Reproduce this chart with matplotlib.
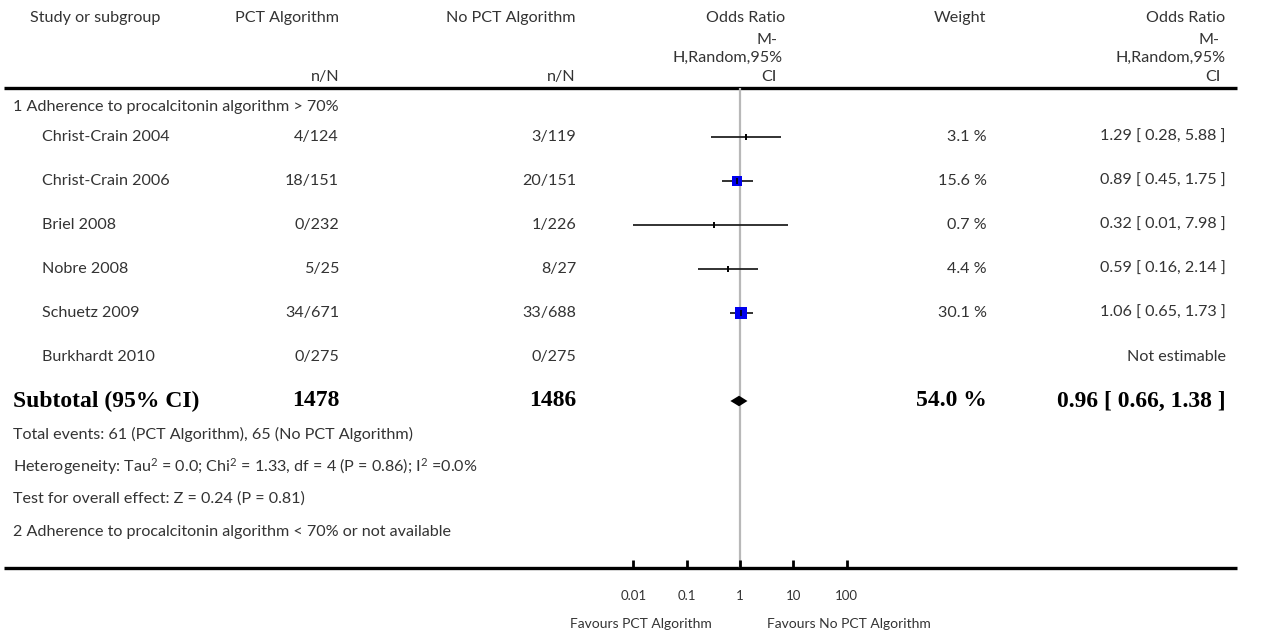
import matplotlib
matplotlib.use("Agg")
import matplotlib.pyplot as plt
import numpy as np

plt.rcParams["mathtext.fontset"] = "custom"
plt.rcParams["mathtext.rm"] = "Lato"
plt.rcParams["mathtext.it"] = "Lato:italic"
plt.rcParams["mathtext.bf"] = "Lato:bold"

# ---------------- data ----------------
studies = ["Christ-Crain 2004", "Christ-Crain 2006", "Briel 2008", "Nobre 2008",
           "Schuetz 2009", "Burkhardt 2010"]
pct_nN = ["4/124", "18/151", "0/232", "5/25", "34/671", "0/275"]
nopct_nN = ["3/119", "20/151", "1/226", "8/27", "33/688", "0/275"]
odds = [1.29, 0.89, 0.32, 0.59, 1.06, None]
ci_low = [0.28, 0.45, 0.01, 0.16, 0.65, None]
ci_high = [5.88, 1.75, 7.98, 2.14, 1.73, None]
weights = [3.1, 15.6, 0.7, 4.4, 30.1, None]
weight_labels = ["3.1 %", "15.6 %", "0.7 %", "4.4 %", "30.1 %", ""]
or_labels = ["1.29 [ 0.28, 5.88 ]", "0.89 [ 0.45, 1.75 ]", "0.32 [ 0.01, 7.98 ]",
             "0.59 [ 0.16, 2.14 ]", "1.06 [ 0.65, 1.73 ]", "Not estimable"]
sub_or, sub_low, sub_high = 0.96, 0.66, 1.38
sub_pct_total, sub_nopct_total = "1478", "1486"
sub_weight = "54.0 %"
sub_label = "0.96 [ 0.66, 1.38 ]"
xticks = [0.01, 0.1, 1, 10, 100]
xtick_labels = ["0.01", "0.1", "1", "10", "100"]

W, H = 1266, 636
fig = plt.figure(figsize=(W / 100, H / 100), dpi=100)

REG = dict(family=["Lato", "DejaVu Sans"], fontsize=11.6, color="#333333")
BOLD = dict(family=["Liberation Serif", "DejaVu Serif"], fontsize=17, fontweight="bold", color="black")

# text/layout axes in pixel coordinates
tx = fig.add_axes([0, 0, 1, 1])
tx.set_xlim(0, W)
tx.set_ylim(H, 0)
tx.axis("off")

# forest axes (log scale)
x0, x1 = 600, 880
ytop, ybot = 88, 568
row0, rstep = 137, 44
ax = fig.add_axes([x0 / W, (H - ybot) / H, (x1 - x0) / W, (ybot - ytop) / H])
ax.set_xscale("log")
dec = 53.33
ax.set_xlim(10 ** ((x0 - 740) / dec), 10 ** ((x1 - 740) / dec))
ax.set_ylim((ybot - row0) / rstep, (ytop - row0) / rstep)
ax.patch.set_alpha(0)
for s in ax.spines.values():
    s.set_visible(False)
ax.set_yticks([])
ax.set_xticks(xticks)
ax.set_xticklabels(xtick_labels)
ax.minorticks_off()
ax.tick_params(axis="x", direction="in", length=6, width=2, pad=16,
               labelsize=9.5, labelcolor="#333333")
for lab in ax.get_xticklabels():
    lab.set_family(["Lato", "DejaVu Sans"])

# reference line at 1
ax.axvline(1, color="#b8b8b8", lw=1.6, zorder=1)

# study rows
for i, (o, lo, hi, w) in enumerate(zip(odds, ci_low, ci_high, weights)):
    if o is None:
        continue
    ax.plot([lo, hi], [i, i], color="#222222", lw=1.3, zorder=2,
            solid_capstyle="butt")
    if w >= 10:
        ms = 5.2 + 0.1 * w
        ax.plot([o], [i], marker="s", color="#0000ee", ms=ms, mew=0, zorder=3)
        ax.plot([o], [i], marker="|", color="black", ms=5, mew=1.2, zorder=4)
    else:
        ax.plot([o], [i], marker="|", color="black", ms=5, mew=1.4, zorder=4)

# subtotal diamond
si = len(studies)
ax.fill([sub_low, sub_or, sub_high, sub_or], [si, si - 0.12, si, si + 0.12],
        color="black", lw=0, zorder=3)

# header
hy1 = 18
tx.text(30, hy1, "Study or subgroup", ha="left", va="center", **REG)
tx.text(339, hy1, "PCT Algorithm", ha="right", va="center", **REG)
tx.text(576, hy1, "No PCT Algorithm", ha="right", va="center", **REG)
tx.text(339, 77, "n/N", ha="right", va="center", **REG)
tx.text(576, 77, "n/N", ha="right", va="center", **REG)
tx.text(785, hy1, "Odds Ratio", ha="right", va="center", **REG)
tx.text(778, 40, "M-", ha="right", va="center", **REG)
tx.text(783, 58, "H,Random,95%", ha="right", va="center", **REG)
tx.text(777, 77, "CI", ha="right", va="center", **REG)
tx.text(986, hy1, "Weight", ha="right", va="center", **REG)
tx.text(1225, hy1, "Odds Ratio", ha="right", va="center", **REG)
tx.text(1220, 40, "M-", ha="right", va="center", **REG)
tx.text(1226, 58, "H,Random,95%", ha="right", va="center", **REG)
tx.text(1221, 77, "CI", ha="right", va="center", **REG)
tx.plot([4, 1237], [88, 88], color="black", lw=2.4, solid_capstyle="butt")

tx.text(13, 107, "1 Adherence to procalcitonin algorithm > 70%", ha="left", va="center", **REG)
for i, name in enumerate(studies):
    y = row0 + rstep * i
    tx.text(42, y, name, ha="left", va="center", **REG)
    tx.text(339, y, pct_nN[i], ha="right", va="center", **REG)
    tx.text(576, y, nopct_nN[i], ha="right", va="center", **REG)
    if weight_labels[i]:
        tx.text(987, y, weight_labels[i], ha="right", va="center", **REG)
    tx.text(1226, y, or_labels[i], ha="right", va="center", **REG)

ys = row0 + rstep * si
tx.text(13, ys, "Subtotal (95% CI)", ha="left", va="center", **BOLD)
tx.text(339, ys, sub_pct_total, ha="right", va="center", **BOLD)
tx.text(576, ys, sub_nopct_total, ha="right", va="center", **BOLD)
tx.text(987, ys, sub_weight, ha="right", va="center", **BOLD)
tx.text(1226, ys, sub_label, ha="right", va="center", **BOLD)

tx.text(13, 434, "Total events: 61 (PCT Algorithm), 65 (No PCT Algorithm)", ha="left", va="center", **REG)
tx.text(13, 467, r"Heterogeneity: Tau$^{2}$ = 0.0; Chi$^{2}$ = 1.33, df = 4 (P = 0.86); I$^{2}$ =0.0%",
        ha="left", va="center", **REG)
tx.text(13, 499, "Test for overall effect: Z = 0.24 (P = 0.81)", ha="left", va="center", **REG)
tx.text(13, 532, "2 Adherence to procalcitonin algorithm < 70% or not available", ha="left", va="center", **REG)

tx.plot([4, 1237], [568, 568], color="black", lw=2.4, solid_capstyle="butt", zorder=5)

FAV = dict(REG)
FAV["fontsize"] = 10
tx.text(712, 624, "Favours PCT Algorithm", ha="right", va="center", **FAV)
tx.text(767, 624, "Favours No PCT Algorithm", ha="left", va="center", **FAV)

fig.savefig("out.png", dpi=100)
